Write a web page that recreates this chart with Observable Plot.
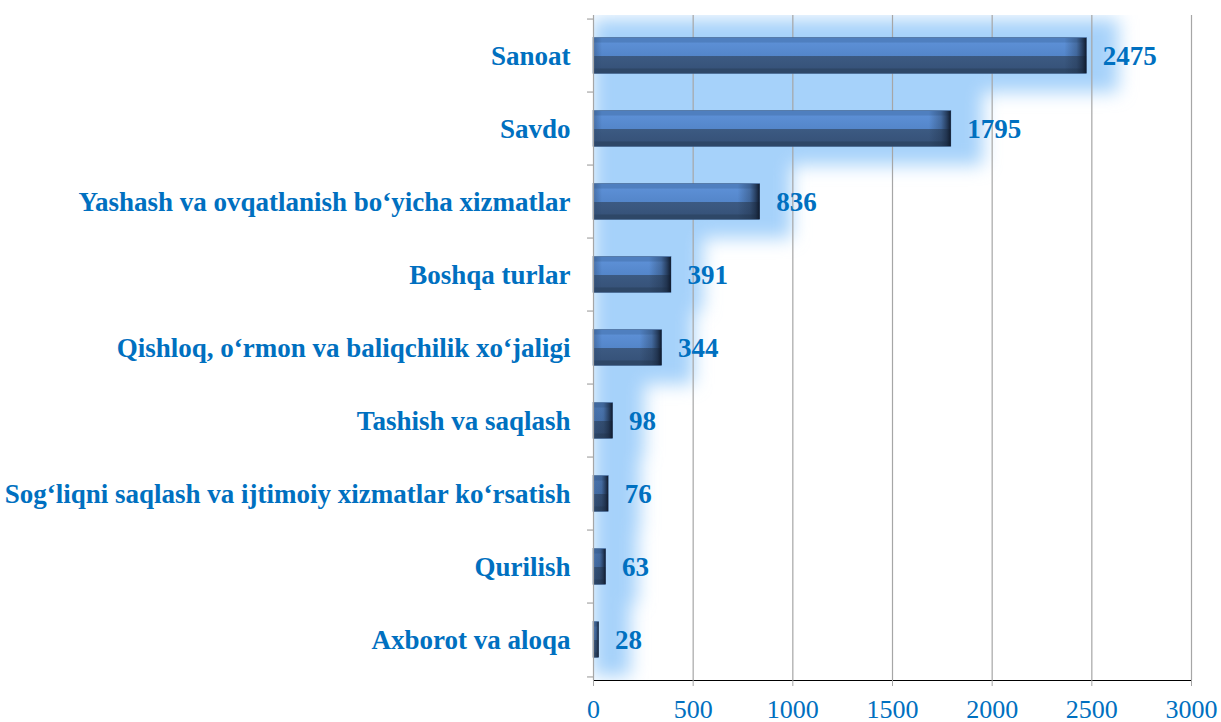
<!DOCTYPE html>
<html>
<head>
<meta charset="utf-8">
<script src="https://cdn.jsdelivr.net/npm/d3@7"></script>
<script src="https://cdn.jsdelivr.net/npm/@observablehq/plot@0.6"></script>
<style>
  html, body { margin: 0; padding: 0; background: #ffffff; }
  #chart svg { display: block; }
</style>
</head>
<body>
<div id="chart"></div>
<script>
const categories = [
  "Sanoat",
  "Savdo",
  "Yashash va ovqatlanish bo‘yicha xizmatlar",
  "Boshqa turlar",
  "Qishloq, o‘rmon va baliqchilik xo‘jaligi",
  "Tashish va saqlash",
  "Sog‘liqni saqlash va ijtimoiy xizmatlar ko‘rsatish",
  "Qurilish",
  "Axborot va aloqa"
];
const values = [2475, 1795, 836, 391, 344, 98, 76, 63, 28];
const xTicks = [0, 500, 1000, 1500, 2000, 2500, 3000];

const data = categories.map((c, i) => ({category: c, value: values[i]}));
const serif = "'Liberation Serif', 'Times New Roman', serif";
const blue = "#0070C0";
const grid = "#A6A6A6";
const mTop = 15, mBottom = 42, mLeft = 593, mRight = 30, W = 1221, H = 722;
const halfStep = (H - mBottom - mTop) / categories.length / 2;

const svg = Plot.plot({
  width: W,
  height: H,
  marginTop: mTop,
  marginBottom: mBottom,
  marginLeft: mLeft,
  marginRight: mRight,
  style: {fontFamily: serif, background: "white", overflow: "visible"},
  x: {domain: [0, 3000], ticks: xTicks, tickSize: 6, tickFormat: () => "", line: true, label: null},
  y: {domain: categories, padding: 0, axis: null, label: null},
  marks: [
    // soft glow behind bars
    Plot.barX(data, {y: "category", x1: 0, x2: d => d.value + 160, fill: "#A6D2FA",
      insetTop: 0, insetBottom: 0, ariaDescription: "glow"}),
    // vertical gridlines
    Plot.ruleX(xTicks.slice(1), {stroke: grid, strokeWidth: 1.2}),
    // main bars
    Plot.barX(data, {y: "category", x1: 0, x2: "value", fill: "url(#barGrad)",
      stroke: "#3f5f8a", strokeWidth: 0.6, insetTop: 18.5, insetBottom: 18.5}),
    // left bevel
    Plot.barX(data, {y: "category", x1: 0, x2: d => Math.min(d.value, 45), fill: "url(#leftGrad)",
      insetTop: 19, insetBottom: 19}),
    // right bevel shade
    Plot.barX(data, {y: "category", x1: d => Math.max(0, d.value - 110), x2: "value", fill: "url(#endGrad)",
      insetTop: 19, insetBottom: 19}),
    // left axis line
    Plot.ruleX([0], {stroke: grid, strokeWidth: 1.2}),
    // left axis ticks at band boundaries
    Plot.ruleY(categories, {y: d => d, x1: -30, x2: 0, dy: -halfStep, stroke: grid, strokeWidth: 1.2}),
    Plot.ruleY(categories.slice(-1), {y: d => d, x1: -30, x2: 0, dy: halfStep, stroke: grid, strokeWidth: 1.2}),
    // category labels
    Plot.text(data, {y: "category", text: "category", frameAnchor: "left", textAnchor: "end",
      lineAnchor: "middle", dx: -23, fontSize: 27, fontWeight: "bold", fill: blue}),
    // value labels
    Plot.text(data, {y: "category", x: "value", text: d => String(d.value), textAnchor: "start",
      lineAnchor: "middle", dx: 16, fontSize: 27, fontWeight: "bold", fill: blue}),
    // x tick labels
    Plot.text(xTicks, {x: d => d, text: d => String(d), frameAnchor: "bottom", lineAnchor: "middle",
      dy: 29.5, fontSize: 26, fill: blue})
  ]
});

// definitions: gradients, blur filter and clip
const s = d3.select(svg);
s.selectAll("g[aria-label^='x-axis']").attr("stroke", grid).attr("color", grid);
const defs = s.insert("defs", ":first-child");
const bg = defs.append("linearGradient").attr("id", "barGrad")
  .attr("x1", 0).attr("y1", 0).attr("x2", 0).attr("y2", 1);
[[0, "#4f7fbf"], [0.13, "#4f7fbf"], [0.15, "#5c8fd5"], [0.5, "#5486ca"],
 [0.52, "#3c5a82"], [0.85, "#37537a"], [0.87, "#2e4767"], [1, "#2e4767"]]
  .forEach(([o, c]) => bg.append("stop").attr("offset", o).attr("stop-color", c));
const eg = defs.append("linearGradient").attr("id", "endGrad")
  .attr("x1", 0).attr("y1", 0).attr("x2", 1).attr("y2", 0);
[[0, "#1a2a40", 0], [0.55, "#1d2e46", 0.35], [0.8, "#1a2a42", 0.75], [1, "#0f1a2c", 1]]
  .forEach(([o, c, op]) => eg.append("stop").attr("offset", o).attr("stop-color", c).attr("stop-opacity", op));
const lg = defs.append("linearGradient").attr("id", "leftGrad")
  .attr("x1", 0).attr("y1", 0).attr("x2", 1).attr("y2", 0);
[[0, "#2c4a72", 0.45], [1, "#2c4a72", 0]]
  .forEach(([o, c, op]) => lg.append("stop").attr("offset", o).attr("stop-color", c).attr("stop-opacity", op));
const f = defs.append("filter").attr("id", "glowBlur")
  .attr("filterUnits", "userSpaceOnUse")
  .attr("x", 0).attr("y", 0).attr("width", W).attr("height", H);
f.append("feGaussianBlur").attr("stdDeviation", 9);
defs.append("clipPath").attr("id", "frameClip")
  .append("rect").attr("x", mLeft).attr("y", mTop)
  .attr("width", W - mLeft).attr("height", H - mTop - mBottom);
s.selectAll("g[aria-description='glow']")
  .attr("filter", "url(#glowBlur)")
  .attr("clip-path", "url(#frameClip)");

document.getElementById("chart").appendChild(svg);
</script>
</body>
</html>
